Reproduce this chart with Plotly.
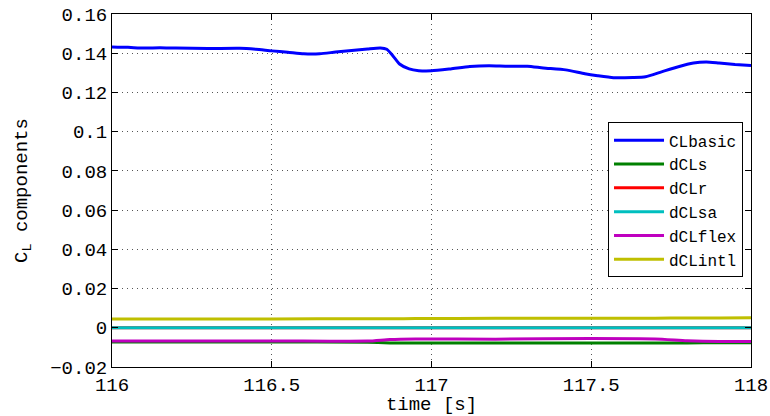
import plotly.graph_objects as go

# CLbasic time history
t_basic = [116.00, 116.05, 116.10, 116.15, 116.20, 116.30, 116.40, 116.45, 116.50,
           116.55, 116.60, 116.65, 116.70, 116.75, 116.80, 116.84, 116.86, 116.88,
           116.90, 116.93, 116.96, 117.00, 117.06, 117.12, 117.18, 117.24, 117.30,
           117.35, 117.42, 117.48, 117.52, 117.57, 117.63, 117.67, 117.72, 117.77,
           117.82, 117.86, 117.90, 117.95, 118.00]
cl_basic = [0.1432, 0.1430, 0.1426, 0.1428, 0.1426, 0.1424, 0.1425, 0.1420, 0.1412,
            0.1405, 0.1397, 0.1397, 0.1406, 0.1414, 0.1422, 0.1427, 0.1420, 0.1385,
            0.1345, 0.1320, 0.1311, 0.1310, 0.1320, 0.1332, 0.1336, 0.1333, 0.1334,
            0.1325, 0.1315, 0.1295, 0.1285, 0.1275, 0.1276, 0.1280, 0.1305, 0.1330,
            0.1350, 0.1355, 0.1350, 0.1343, 0.1338]

# Increment components
t_incr = [116.00, 116.50, 116.80, 116.87, 116.95, 117.20, 117.50, 117.70, 117.80, 117.90, 118.00]
dcl_s = [-0.0072, -0.0072, -0.0074, -0.0077, -0.0078, -0.0078, -0.0078, -0.0078, -0.0077, -0.0076, -0.0076]
dcl_r = [0.0, 0.0, 0.0, 0.0, 0.0, 0.0, 0.0, 0.0, 0.0, 0.0, 0.0]
dcl_sa = [0.0, 0.0, 0.0, 0.0, 0.0, 0.0, 0.0, 0.0, 0.0, 0.0, 0.0]
dcl_flex = [-0.0068, -0.0067, -0.0068, -0.0060, -0.0057, -0.0058, -0.0055, -0.0057, -0.0066, -0.0070, -0.0070]
dcl_intl = [0.0045, 0.0045, 0.0046, 0.0046, 0.0047, 0.0048, 0.0048, 0.0049, 0.0050, 0.0050, 0.0051]

x_ticks = [116, 116.5, 117, 117.5, 118]
x_ticktext = ["116", "116.5", "117", "117.5", "118"]
y_ticks = [-0.02, 0, 0.02, 0.04, 0.06, 0.08, 0.1, 0.12, 0.14, 0.16]
y_ticktext = ["\u22120.02", "0", "0.02", "0.04", "0.06", "0.08", "0.1", "0.12", "0.14", "0.16"]

FONT = "Liberation Mono"

series = [
    ("CLbasic", t_basic, cl_basic, "#0000FF"),
    ("dCLs", t_incr, dcl_s, "#008000"),
    ("dCLr", t_incr, dcl_r, "#FF0000"),
    ("dCLsa", t_incr, dcl_sa, "#00BFBF"),
    ("dCLflex", t_incr, dcl_flex, "#BF00BF"),
    ("dCLintl", t_incr, dcl_intl, "#BFBF00"),
]

fig = go.Figure()
for name, tx, vals, color in series:
    fig.add_trace(go.Scatter(x=tx, y=vals, name=name, mode="lines",
                             line=dict(color=color, width=3, shape="spline", smoothing=0.6)))

axis_common = dict(
    automargin=False,
    showline=True, linecolor="black", linewidth=1, mirror="ticks",
    ticks="inside", ticklen=6, tickcolor="black", tickwidth=1,
    showgrid=True, gridcolor="#555555", gridwidth=1, griddash="1px,4px",
    zeroline=False,
    tickfont=dict(family=FONT, size=19, color="black"),
)

fig.update_xaxes(range=[116, 118], tickvals=x_ticks, ticktext=x_ticktext,
                 title=dict(text="time [s]", font=dict(family=FONT, size=19, color="black"), standoff=4),
                 **axis_common)
fig.update_yaxes(range=[-0.02, 0.16], tickvals=y_ticks, ticktext=y_ticktext,
                 title=dict(text="C<sub>L</sub> components", font=dict(family=FONT, size=19, color="black"), standoff=17),
                 **axis_common)

fig.update_layout(
    width=770, height=416,
    margin=dict(l=112, r=19, t=14, b=49),
    plot_bgcolor="white", paper_bgcolor="white",
    showlegend=True,
    legend=dict(x=0.9875, y=0.693, xanchor="right", yanchor="top",
                bgcolor="white", bordercolor="black", borderwidth=1,
                font=dict(family=FONT, size=16, color="black"),
                tracegroupgap=0, itemwidth=50),
)

fig.write_html("out.html")
